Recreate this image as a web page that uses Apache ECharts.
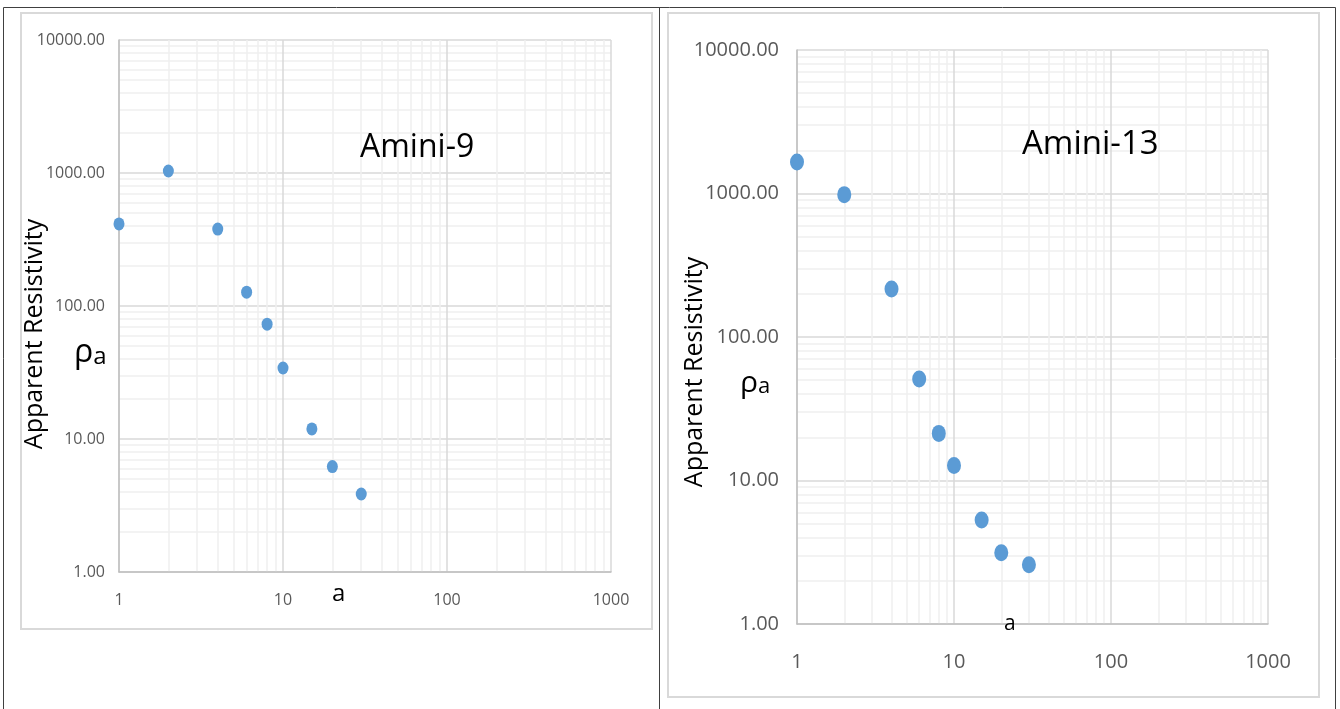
<!DOCTYPE html>
<html>
<head>
<meta charset="utf-8">
<script src="https://cdn.jsdelivr.net/npm/echarts@6/dist/echarts.min.js"></script>
<style>
  html, body { margin: 0; padding: 0; background: #fff; }
  #main { width: 1340px; height: 709px; }
</style>
</head>
<body>
<div id="main"></div>
<script>
// electrode spacing a (m)
var spacing = [1, 2, 4, 6, 8, 10, 15, 20, 30];
// apparent resistivity, Amini-9
var rhoAmini9 = [414, 1035, 379, 127, 73, 34.2, 11.9, 6.2, 3.86];
// apparent resistivity, Amini-13
var rhoAmini13 = [1656, 982, 216, 50.9, 21.3, 12.7, 5.3, 3.14, 2.59];

var xTicks = ['1', '10', '100', '1000'];
var yTicks = ['1.00', '10.00', '100.00', '1000.00', '10000.00'];

var myChart = echarts.init(document.getElementById('main'));

function pairs(xs, ys) {
  return xs.map(function (x, i) { return [x, ys[i]]; });
}

var textFont = '"Open Sans", "Noto Sans", sans-serif';
var tickColor = '#595959';

function makeX(idx, fs, margin) {
  return {
    type: 'log', logBase: 10, gridIndex: idx, min: 1, max: 1000,
    axisLine: { show: true, lineStyle: { color: '#bfbfbf', width: 1.5 } },
    axisTick: { show: false },
    axisLabel: {
      color: tickColor, fontSize: fs, fontFamily: textFont, margin: margin,
      formatter: function (v) { return String(Math.round(v)); }
    },
    splitLine: { show: true, lineStyle: { color: '#d9d9d9', width: 1.5 } },
    minorTick: { show: false, splitNumber: 9 },
    minorSplitLine: { show: true, lineStyle: { color: '#efefef', width: 1.5 } }
  };
}

function makeY(idx, fs, margin) {
  return {
    type: 'log', logBase: 10, gridIndex: idx, min: 1, max: 10000,
    axisLine: { show: true, lineStyle: { color: '#bfbfbf', width: 1.5 } },
    axisTick: { show: false },
    axisLabel: {
      color: tickColor, fontSize: fs, fontFamily: textFont, margin: margin,
      formatter: function (v) { return Number(v).toFixed(2); }
    },
    splitLine: { show: true, lineStyle: { color: '#d9d9d9', width: 1.5 } },
    minorTick: { show: false, splitNumber: 9 },
    minorSplitLine: { show: true, lineStyle: { color: '#efefef', width: 1.5 } }
  };
}

myChart.setOption({
  animation: false,
  backgroundColor: '#fff',
  grid: [
    { left: 119, top: 40, width: 492, height: 532 },
    { left: 797, top: 50, width: 471, height: 574 }
  ],
  xAxis: [makeX(0, 16, 20), makeX(1, 20, 28)],
  yAxis: [makeY(0, 16, 14), makeY(1, 20, 18)],
  series: [
    {
      name: 'Amini-9', type: 'scatter', xAxisIndex: 0, yAxisIndex: 0,
      symbol: 'circle', symbolSize: [11, 13],
      itemStyle: { color: '#5b9bd5', opacity: 1 },
      data: pairs(spacing, rhoAmini9)
    },
    {
      name: 'Amini-13', type: 'scatter', xAxisIndex: 1, yAxisIndex: 1,
      symbol: 'circle', symbolSize: [14, 17],
      itemStyle: { color: '#5b9bd5', opacity: 1 },
      data: pairs(spacing, rhoAmini13)
    }
  ],
  graphic: [
    // table frame
    { type: 'rect', z: 100, shape: { x: 3.5, y: 7.5, width: 1332, height: 705 },
      style: { fill: null, stroke: '#404040', lineWidth: 1 }, silent: true },
    { type: 'line', z: 100, shape: { x1: 659.5, y1: 7, x2: 659.5, y2: 709 },
      style: { stroke: '#404040', lineWidth: 1 }, silent: true },
    // chart boxes
    { type: 'rect', z: 100, shape: { x: 21, y: 13, width: 631, height: 616 },
      style: { fill: null, stroke: '#d9d9d9', lineWidth: 2 }, silent: true },
    { type: 'rect', z: 100, shape: { x: 668, y: 13, width: 651, height: 684 },
      style: { fill: null, stroke: '#d9d9d9', lineWidth: 2 }, silent: true },
    // titles
    { type: 'text', z: 100, left: 360, top: 132,
      style: { text: 'Amini-9', fontSize: 32, fontFamily: textFont, fill: '#000' } },
    { type: 'text', z: 100, left: 1022, top: 128,
      style: { text: 'Amini-13', fontSize: 33, fontFamily: textFont, fill: '#000' } },
    // y axis names
    { type: 'text', z: 100, x: 35, y: 334, rotation: Math.PI / 2,
      style: { text: 'Apparent Resistivity', fontSize: 25, fontFamily: textFont, fill: '#000',
               align: 'center', verticalAlign: 'middle' } },
    { type: 'text', z: 100, x: 695, y: 372, rotation: Math.PI / 2,
      style: { text: 'Apparent Resistivity', fontSize: 25, fontFamily: textFont, fill: '#000',
               align: 'center', verticalAlign: 'middle' } },
    // rho_a symbols
    { type: 'text', z: 100, left: 74, top: 337,
      style: { text: '{r|ρ}{s|a}', fontFamily: textFont, fill: '#000',
               rich: { r: { fontSize: 32, fontFamily: textFont, verticalAlign: 'bottom' },
                       s: { fontSize: 24, fontFamily: textFont, verticalAlign: 'bottom' } } } },
    { type: 'text', z: 100, left: 740, top: 368,
      style: { text: '{r|ρ}{s|a}', fontFamily: textFont, fill: '#000',
               rich: { r: { fontSize: 30, fontFamily: textFont, verticalAlign: 'bottom' },
                       s: { fontSize: 22, fontFamily: textFont, verticalAlign: 'bottom' } } } },
    // x axis names
    { type: 'text', z: 100, left: 332, top: 582,
      style: { text: 'a', fontSize: 24, fontFamily: textFont, fill: '#000' } },
    { type: 'text', z: 100, left: 1004, top: 614,
      style: { text: 'a', fontSize: 21, fontFamily: textFont, fill: '#000' } }
  ]
});
</script>
</body>
</html>
